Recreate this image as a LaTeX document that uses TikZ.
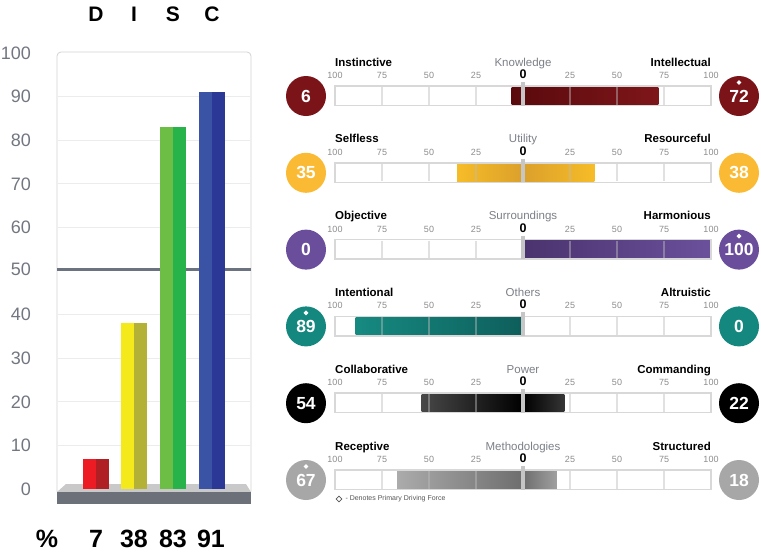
\documentclass[tikz,border=0pt]{standalone}
\usepackage{fontspec}
\setmainfont{Liberation Sans}
\usetikzlibrary{positioning,shapes.geometric}

\definecolor{axisgrey}{HTML}{717680}
\definecolor{gridgrey}{HTML}{ECECEC}
\definecolor{framegrey}{HTML}{D2D2D2}
\definecolor{midline}{HTML}{6B7280}
\definecolor{basetop}{HTML}{C9C9C9}
\definecolor{baseband}{HTML}{6B7079}
\definecolor{dleft}{HTML}{ED1C24}
\definecolor{dright}{HTML}{B01F24}
\definecolor{ileft}{HTML}{F3E91B}
\definecolor{iright}{HTML}{B3B236}
\definecolor{sleft}{HTML}{6CBE45}
\definecolor{sright}{HTML}{27B24A}
\definecolor{cleft}{HTML}{3A53A4}
\definecolor{cright}{HTML}{2B3896}
\definecolor{titlegrey}{HTML}{7B7F87}
\definecolor{tickgrey}{HTML}{8C8C8C}
\definecolor{boxgrey}{HTML}{D8D8D8}
\definecolor{tickline}{HTML}{BDBDBD}
\definecolor{zerogrey}{HTML}{C6C6C6}
\definecolor{knowred}{HTML}{7A1418}
\definecolor{knowdark}{HTML}{5A0A0D}
\definecolor{knowlight}{HTML}{7E161A}
\definecolor{utilgold}{HTML}{FBBA33}
\definecolor{utillight}{HTML}{F6BC28}
\definecolor{utildark}{HTML}{DBA02B}
\definecolor{survio}{HTML}{6A4E9B}
\definecolor{surdark}{HTML}{4A336E}
\definecolor{surlight}{HTML}{6B509C}
\definecolor{othteal}{HTML}{14877F}
\definecolor{othdark}{HTML}{0E5E5B}
\definecolor{othlight}{HTML}{168A81}
\definecolor{powgrey}{HTML}{484848}
\definecolor{powright}{HTML}{353535}
\definecolor{methgrey}{HTML}{A7A7A7}
\definecolor{methlight}{HTML}{ABABAB}
\definecolor{methdark}{HTML}{6E6E6E}
\definecolor{methright}{HTML}{A0A0A0}
\definecolor{legendgrey}{HTML}{555555}

\newcommand{\fsize}[1]{\fontsize{#1}{#1}\selectfont}

% one value scale: name, centre y, left pole, title, right pole, bar fill
\newcommand{\drawscale}[6]{%
    \node[polelabel,anchor=base west] (#1-lp) at (335,#2-30) {#3};
    \node[titlelabel,anchor=base] (#1-tt) at (523,#2-30) {#4};
    \node[polelabel,anchor=base east] (#1-rp) at (711,#2-30) {#5};
    \node[ticklabel] (#1-a) at (335,#2-17.5) {100};
    \node[ticklabel] (#1-b) at (382,#2-17.5) {75};
    \node[ticklabel] (#1-c) at (429,#2-17.5) {50};
    \node[ticklabel] (#1-d) at (476,#2-17.5) {25};
    \node[zerolabel] (#1-zero) at (523,#2-17.5) {0};
    \node[ticklabel] (#1-e) at (570,#2-17.5) {25};
    \node[ticklabel] (#1-f) at (617,#2-17.5) {50};
    \node[ticklabel] (#1-g) at (664,#2-17.5) {75};
    \node[ticklabel] (#1-h) at (711,#2-17.5) {100};
    #6
    \draw[scaletick] (382,#2-9) -- (382,#2+8.5) (429,#2-9) -- (429,#2+8.5)
        (476,#2-9) -- (476,#2+8.5) (570,#2-9) -- (570,#2+8.5)
        (617,#2-9) -- (617,#2+8.5) (664,#2-9) -- (664,#2+8.5);
    \draw[scalebox] (335,#2-10) rectangle (711,#2+9.5);
    \draw[zeroline] (523,#2-14) -- (523,#2+9.5);
}

\begin{document}
\begin{tikzpicture}[x=1pt,y=-1pt,
        every node/.style={inner sep=0pt},
        axisnum/.style={text=axisgrey,font=\fsize{18},anchor=east},
        gridline/.style={draw=gridgrey,line width=0.8pt},
        discletter/.style={font=\bfseries\fsize{21}},
        discscore/.style={font=\bfseries\fsize{25}},
        polelabel/.style={font=\bfseries\fsize{11.5}},
        titlelabel/.style={text=titlegrey,font=\fsize{11.5}},
        ticklabel/.style={text=tickgrey,font=\fsize{9},anchor=base},
        zerolabel/.style={font=\bfseries\fsize{12.5},anchor=base},
        scalebox/.style={draw=boxgrey,line width=1.5pt},
        scaletick/.style={draw=tickline,line width=1.5pt,opacity=0.45},
        zeroline/.style={draw=zerogrey,line width=4pt},
        scoredot/.style={circle,minimum size=40pt,text=white,font=\bfseries\fsize{17.5}},
        drivemark/.style={diamond,fill=white,minimum size=5pt}]
    \useasboundingbox (0,0) rectangle (761,560);

    % DISC chart
    \node[discletter] (dlet) at (96,14) {D};
    \node[discletter] (ilet) at (134,14) {I};
    \node[discletter] (slet) at (173,14) {S};
    \node[discletter] (clet) at (212,14) {C};

    \node[axisnum] (y100) at (31,53) {100};
    \node[axisnum] (y90) at (31,96.6) {90};
    \node[axisnum] (y80) at (31,140.2) {80};
    \node[axisnum] (y70) at (31,183.8) {70};
    \node[axisnum] (y60) at (31,227.4) {60};
    \node[axisnum] (y50) at (31,269.5) {50};
    \node[axisnum] (y40) at (31,314.6) {40};
    \node[axisnum] (y30) at (31,358.2) {30};
    \node[axisnum] (y20) at (31,401.8) {20};
    \node[axisnum] (y10) at (31,445.4) {10};
    \node[axisnum] (y0) at (31,489) {0};

    \draw[draw=framegrey,line width=0.8pt,rounded corners=4pt] (57,52) rectangle (251,495);
    \draw[gridline] (58,96.6) -- (250,96.6) (58,140.2) -- (250,140.2) (58,183.8) -- (250,183.8)
        (58,227.4) -- (250,227.4) (58,314.6) -- (250,314.6) (58,358.2) -- (250,358.2)
        (58,401.8) -- (250,401.8) (58,445.4) -- (250,445.4);
    \draw[draw=midline,line width=3pt] (57,269) -- (251,269);

    \fill[basetop] (57,492) -- (66,484) -- (246,484) -- (251,492) -- cycle;
    \fill[baseband] (57,492) rectangle (251,504);

    \fill[dleft] (83,489) rectangle (96,458.5);
    \fill[dright] (96,489) rectangle (109,458.5);
    \fill[ileft] (121,489) rectangle (134,323.3);
    \fill[iright] (134,489) rectangle (147,323.3);
    \fill[sleft] (160,489) rectangle (173,127.1);
    \fill[sright] (173,489) rectangle (186,127.1);
    \fill[cleft] (199,489) rectangle (212,92.2);
    \fill[cright] (212,489) rectangle (225,92.2);

    \node[discscore] (pct) at (47,539) {\%};
    \node[discscore] (dval) at (96,539) {7};
    \node[discscore] (ival) at (134,539) {38};
    \node[discscore] (sval) at (173,539) {83};
    \node[discscore] (cval) at (211,539) {91};

    % value scales
    \drawscale{kn}{96}{Instinctive}{Knowledge}{Intellectual}
        {\shade[left color=knowdark,right color=knowlight] (511.7,87) rectangle (658.4,104.5);}
    \node[scoredot,fill=knowred] (kn-l) at (306,96) {6};
    \node[scoredot,fill=knowred] (kn-r) at (739,96) {72};
    \node[drivemark] (kn-dm) at ([yshift=13.5pt]kn-r.center) {};

    \drawscale{ut}{172.8}{Selfless}{Utility}{Resourceful}
        {\shade[left color=utillight,right color=utildark] (457.2,163.8) rectangle (523,181.3);
         \shade[left color=utildark,right color=utillight] (523,163.8) rectangle (594.4,181.3);}
    \node[scoredot,fill=utilgold] (ut-l) at (306,172.8) {35};
    \node[scoredot,fill=utilgold] (ut-r) at (739,172.8) {38};

    \drawscale{su}{249.6}{Objective}{Surroundings}{Harmonious}
        {\shade[left color=surdark,right color=surlight] (523,240.6) rectangle (711,258.1);}
    \node[scoredot,fill=survio] (su-l) at (306,249.6) {0};
    \node[scoredot,fill=survio] (su-r) at (739,249.6) {100};
    \node[drivemark] (su-dm) at ([yshift=13.5pt]su-r.center) {};

    \drawscale{ot}{326.4}{Intentional}{Others}{Altruistic}
        {\shade[left color=othlight,right color=othdark] (355.7,317.4) rectangle (523,334.9);}
    \node[scoredot,fill=othteal] (ot-l) at (306,326.4) {89};
    \node[scoredot,fill=othteal] (ot-r) at (739,326.4) {0};
    \node[drivemark] (ot-dm) at ([yshift=13.5pt]ot-l.center) {};

    \drawscale{po}{403.2}{Collaborative}{Power}{Commanding}
        {\shade[left color=powgrey,right color=black] (421.5,394.2) rectangle (523,411.7);
         \shade[left color=black,right color=powright] (523,394.2) rectangle (564.4,411.7);}
    \node[scoredot,fill=black] (po-l) at (306,403.2) {54};
    \node[scoredot,fill=black] (po-r) at (739,403.2) {22};

    \drawscale{me}{480}{Receptive}{Methodologies}{Structured}
        {\shade[left color=methlight,right color=methdark] (397,471) rectangle (523,488.5);
         \shade[left color=methdark,right color=methright] (523,471) rectangle (556.8,488.5);}
    \node[scoredot,fill=methgrey] (me-l) at (306,480) {67};
    \node[scoredot,fill=methgrey] (me-r) at (739,480) {18};
    \node[drivemark] (me-dm) at ([yshift=13.5pt]me-l.center) {};

    % legend
    \node[diamond,draw=legendgrey,line width=0.6pt,minimum size=6pt] (legend-mark) at (339,499) {};
    \node[text=legendgrey,font=\fsize{7},right=3pt of legend-mark] (legend-text) {- Denotes Primary Driving Force};
\end{tikzpicture}
\end{document}
